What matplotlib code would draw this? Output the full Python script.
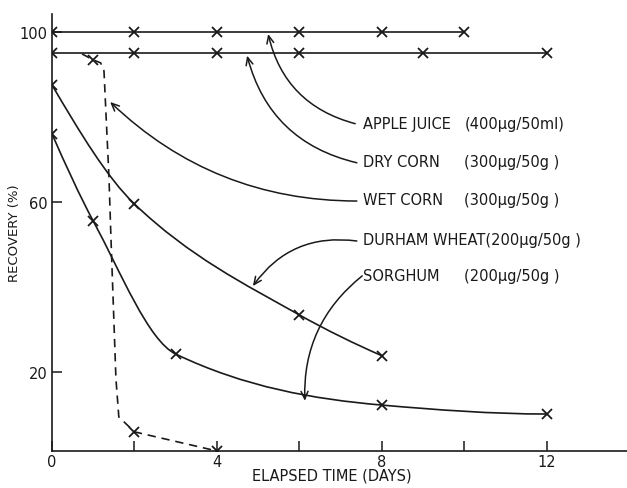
import numpy as np
import matplotlib
matplotlib.use("Agg")
import matplotlib.pyplot as plt
from matplotlib.path import Path
from matplotlib.patches import PathPatch

plt.rcParams["font.family"] = ["DejaVu Sans"]

# Recovery (%) versus elapsed time (days)
apple_days = [0, 2, 4, 6, 8, 10]
apple_rec = [100, 100, 100, 100, 100, 100]

dry_corn_days = [0, 2, 4, 6, 9, 12]
dry_corn_rec = [95.1, 95.1, 95.1, 95.1, 95.1, 95.1]

wet_corn_days = [1, 2, 4]
wet_corn_rec = [93.4, 5.9, 1.4]
# hand-drawn dashed trace of the wet corn curve
wet_corn_curve_days = [0.73, 1.0, 1.18, 1.26, 1.38, 1.43, 1.55, 1.62, 2.0, 4.0]
wet_corn_curve_rec = [94.8, 93.4, 92.7, 90.8, 66.0, 51.3, 18.4, 9.4, 5.9, 1.4]

durham_days = [0, 2, 6, 8]
durham_rec = [87.5, 59.5, 33.4, 23.8]

sorghum_days = [0, 1, 3, 8, 12]
sorghum_rec = [76.0, 55.5, 24.2, 12.2, 10.1]

x_ticks = [0, 4, 8, 12]
x_minor_ticks = [2, 6, 10]
y_ticks = [20, 60, 100]

labels = ["APPLE JUICE", "DRY CORN", "WET CORN", "DURHAM WHEAT(200\u03bcg/50g )", "SORGHUM"]
doses = ["(400\u03bcg/50ml)", "(300\u03bcg/50g )", "(300\u03bcg/50g )", "", "(200\u03bcg/50g )"]


def pchip_slopes(x, y):
    x = np.asarray(x, float)
    y = np.asarray(y, float)
    h = np.diff(x)
    d = np.diff(y) / h
    n = len(x)
    m = np.zeros(n)
    for i in range(1, n - 1):
        if d[i - 1] * d[i] > 0:
            w1 = 2 * h[i] + h[i - 1]
            w2 = h[i] + 2 * h[i - 1]
            m[i] = (w1 + w2) / (w1 / d[i - 1] + w2 / d[i])
    m0 = ((2 * h[0] + h[1]) * d[0] - h[0] * d[1]) / (h[0] + h[1])
    if np.sign(m0) != np.sign(d[0]):
        m0 = 0
    m[0] = m0
    me = ((2 * h[-1] + h[-2]) * d[-1] - h[-1] * d[-2]) / (h[-1] + h[-2])
    if np.sign(me) != np.sign(d[-1]):
        me = 0
    m[-1] = me
    return m


def smooth_path(x, y):
    """Cubic Bezier path through (x, y) with monotone Hermite tangents."""
    m = pchip_slopes(x, y)
    verts = [(x[0], y[0])]
    codes = [Path.MOVETO]
    for i in range(len(x) - 1):
        h = x[i + 1] - x[i]
        verts += [(x[i] + h / 3, y[i] + m[i] * h / 3),
                  (x[i + 1] - h / 3, y[i + 1] - m[i + 1] * h / 3),
                  (x[i + 1], y[i + 1])]
        codes += [Path.CURVE4] * 3
    return Path(verts, codes)


fig = plt.figure(figsize=(6.27, 4.89), dpi=100)
ax = fig.add_axes([52 / 627, 37 / 489, 575 / 627, 437 / 489])
ax.set_xlim(0, 13.94)
ax.set_ylim(1.4, 104.2)

lw = 1.2
ink = "#1a1a1a"
fs = 10.5
mk = dict(marker="x", markersize=7.5, markeredgewidth=1.3, color=ink, linestyle="none")

# straight series
ax.plot(apple_days, apple_rec, color=ink, lw=lw)
ax.plot(apple_days, apple_rec, **mk)
ax.plot(dry_corn_days, dry_corn_rec, color=ink, lw=lw)
ax.plot(dry_corn_days, dry_corn_rec, **mk)

# wet corn: dashed
ax.plot(wet_corn_curve_days, wet_corn_curve_rec, color=ink, lw=lw, dashes=(5, 3.5))
ax.plot(wet_corn_days, wet_corn_rec, **mk)

# smooth curves
for dd, rr in [(durham_days, durham_rec), (sorghum_days, sorghum_rec)]:
    ax.add_patch(PathPatch(smooth_path(dd, rr), facecolor="none", edgecolor=ink, lw=lw))
    ax.plot(dd, rr, **mk)

# labels with curved pointers
name_x = 7.55
dose_x = 10.0
label_y = [78.4, 69.4, 60.5, 51.1, 42.8]
tips = [(5.24, 99.5), (4.73, 94.4), (1.41, 83.5), (4.87, 40.2), (6.13, 13.2)]
tails = [(7.35, 78.4), (7.39, 69.2), (7.39, 60.2), (7.39, 50.8), (7.52, 42.6)]
rads = [-0.3, -0.3, -0.2, 0.3, 0.25]
for name, dose, ly, tip, tail, rad in zip(labels, doses, label_y, tips, tails, rads):
    ax.text(name_x, ly, name, fontsize=fs, color=ink, ha="left", va="center")
    if dose:
        ax.text(dose_x, ly, dose, fontsize=fs, color=ink, ha="left", va="center")
    ax.annotate("", xy=tip, xytext=tail,
                arrowprops=dict(arrowstyle="->,head_length=0.55,head_width=0.25",
                                connectionstyle=f"arc3,rad={rad}",
                                color=ink, lw=1.1, shrinkA=0, shrinkB=0))

# axes styling
for s in ["top", "right"]:
    ax.spines[s].set_visible(False)
for s in ["left", "bottom"]:
    ax.spines[s].set_linewidth(1.2)
    ax.spines[s].set_color(ink)

ax.set_xticks(x_ticks)
ax.set_xticks(x_minor_ticks, minor=True)
ax.set_yticks(y_ticks)
ax.tick_params(axis="both", which="both", direction="in", length=7, width=1.1,
               colors=ink, labelsize=fs)
ax.tick_params(axis="x", pad=2)
ax.tick_params(axis="y", pad=3)

ax.set_xlabel("ELAPSED TIME (DAYS)", fontsize=fs, color=ink, va="center")
ax.xaxis.set_label_coords(0.487, -0.055)
ax.set_ylabel("RECOVERY (%)", fontsize=9.5, color=ink, va="center")
ax.yaxis.set_label_coords(-0.065, 0.5)

fig.savefig("out.png", dpi=100)
